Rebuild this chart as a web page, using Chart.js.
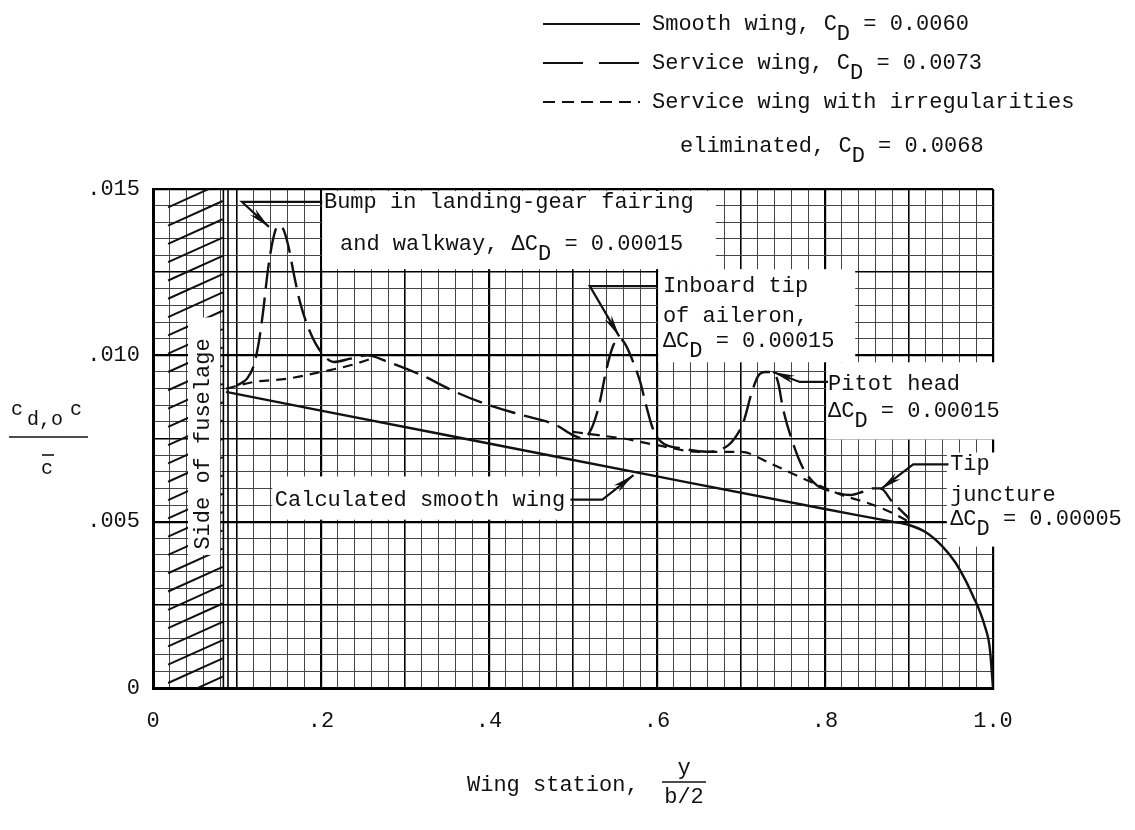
<!DOCTYPE html>
<html>
<head>
<meta charset="utf-8">
<script src="https://cdn.jsdelivr.net/npm/chart.js@4.4.1/dist/chart.umd.min.js"></script>
<style>
html,body{margin:0;padding:0;background:#fff}
#wrap{width:1135px;height:830px}
</style>
</head>
<body>
<div id="wrap"><canvas id="dragChart" width="1135" height="830"></canvas></div>
<script>

// wing station y/(b/2) and section drag cd,o c / cbar
const smoothX=[0.087,0.2,0.4,0.6,0.8,0.88,0.9,0.92,0.94,0.955,0.967,0.977,0.985,0.991,0.996,1.0]
const smoothY=[0.0089,0.00834,0.00735,0.00636,0.00538,0.00500,0.00490,0.00468,0.00425,0.00378,0.00325,0.00272,0.00226,0.00180,0.00124,0]

const serviceX=[0.1,0.112,0.12,0.126,0.131,0.137,0.143,0.149,0.155,0.161,0.168,0.175,0.187,0.2,0.215,0.235,0.255,0.28,0.32,0.36,0.40,0.44,0.48,0.50,0.512,0.522,0.531,0.54,0.548,0.556,0.563,0.57,0.58,0.587,0.595,0.605,0.63,0.66,0.685,0.695,0.703,0.713,0.721,0.729,0.737,0.744,0.75,0.76,0.774,0.79,0.81,0.83,0.845,0.857,0.866,0.88,0.9]
const serviceY=[0.0091,0.0093,0.0097,0.0104,0.0113,0.0126,0.0135,0.0139,0.0138,0.0133,0.0124,0.0116,0.0107,0.0101,0.0098,0.0099,0.0100,0.0098,0.0094,0.0089,0.0085,0.0082,0.0079,0.0076,0.0075,0.0078,0.0085,0.0096,0.0103,0.0105,0.0103,0.0099,0.0092,0.0085,0.0078,0.0074,0.0072,0.0071,0.0073,0.0076,0.0080,0.0089,0.0094,0.0095,0.0095,0.0092,0.0084,0.0075,0.0066,0.0061,0.0059,0.0058,0.0059,0.0060,0.0060,0.0056,0.0051]

// irregularities eliminated; null where it runs on the service wing curve
const cleanX=[0.087,0.12,0.16,0.2,0.235,0.26,0.38,0.50,0.53,0.56,0.6,0.65,0.7,0.735,0.765,0.792,0.82,0.85,0.877,0.9]
const cleanY=[0.0090,0.0092,0.0093,0.0095,0.0097,0.0099,null,0.0077,0.0076,0.0075,0.0073,0.0071,0.0071,0.00675,0.0064,0.0061,0.0058,0.00557,0.0053,0.0050]

const xTickLabels=['0','.2','.4','.6','.8','1.0']
const yTickLabels=['0','.005','.010','.015']

const FONT='"Liberation Mono","Courier New",monospace'

const pts=(xs,ys)=>xs.map((x,i)=>({x:x,y:ys[i]}))

// white patches behind notes, data coords [x1,y1,x2,y2]
const boxes=[
[0.2015,0.01494,0.67,0.01259],
[0.6015,0.01259,0.836,0.00979],
[0.8015,0.00979,1.03,0.00747],
[0.945,0.00708,1.03,0.00425],
[0.142,0.00636,0.497,0.00506],
[0.0417,0.01114,0.08,0.0040]
]

const notes=[
{x:0.2035,y:0.01461,t:['Bump in landing-gear fairing']},
{x:0.2226,y:0.01334,t:['and walkway, \u0394C',['D'],' = 0.00015']},
{x:0.607,y:0.01208,t:['Inboard tip']},
{x:0.607,y:0.01117,t:['of aileron,']},
{x:0.607,y:0.01042,t:['\u0394C',['D'],' = 0.00015']},
{x:0.8036,y:0.00913,t:['Pitot head']},
{x:0.8036,y:0.00831,t:['\u0394C',['D'],' = 0.00015']},
{x:0.949,y:0.00672,t:['Tip']},
{x:0.949,y:0.00581,t:['juncture']},
{x:0.949,y:0.00506,t:['\u0394C',['D'],' = 0.00005']},
{x:0.145,y:0.00566,t:['Calculated smooth wing']}
]

const arrows=[
[[0.2015,0.01461],[0.106,0.01461],[0.138,0.01386]],
[[0.6,0.01208],[0.52,0.01208],[0.555,0.01057]],
[[0.8036,0.0092],[0.77,0.0092],[0.738,0.0095]],
[[0.947,0.00672],[0.905,0.00672],[0.866,0.00597]],
[[0.497,0.00566],[0.535,0.00566],[0.572,0.0064]]
]

function richText(ctx,x,y,parts,size){
  ctx.font=size+'px '+FONT
  ctx.textBaseline='middle'
  ctx.textAlign='left'
  let cx=x
  parts.forEach(p=>{
    if(Array.isArray(p)){
      ctx.fillText(p[0],cx,y+size*0.45)
      cx+=ctx.measureText(p[0]).width
    }else{
      ctx.fillText(p,cx,y)
      cx+=ctx.measureText(p).width
    }
  })
  return cx
}

function arrowLine(ctx,p){
  ctx.beginPath()
  ctx.moveTo(p[0][0],p[0][1])
  for(let i=1;i<p.length;i++) ctx.lineTo(p[i][0],p[i][1])
  ctx.stroke()
  const [x1,y1]=p[p.length-2]
  const [x2,y2]=p[p.length-1]
  const a=Math.atan2(y2-y1,x2-x1)
  const L=22,W=4
  ctx.beginPath()
  ctx.moveTo(x2,y2)
  ctx.lineTo(x2-L*Math.cos(a)+W*Math.sin(a),y2-L*Math.sin(a)-W*Math.cos(a))
  ctx.lineTo(x2-L*0.7*Math.cos(a),y2-L*0.7*Math.sin(a))
  ctx.lineTo(x2-L*Math.cos(a)-W*Math.sin(a),y2-L*Math.sin(a)+W*Math.cos(a))
  ctx.closePath()
  ctx.fill()
}

// grid weight: heavy every 10 squares, medium every 5
function gridWidth(v,step){
  const n=Math.round(v/step)
  if(n%10===0) return 2.2
  if(n%5===0) return 1.6
  return 1
}

const paper={
  id:'paper',
  beforeDatasetsDraw(chart){
    const ctx=chart.ctx,xs=chart.scales.x,ys=chart.scales.y,a=chart.chartArea
    ctx.save()
    // hatching left of the fuselage line
    ctx.beginPath()
    ctx.rect(a.left,a.top,xs.getPixelForValue(0.084)-a.left,a.bottom-a.top)
    ctx.clip()
    ctx.strokeStyle='#111'
    ctx.lineWidth=2
    for(let y=-0.0004;y<0.0152;y+=0.00055){
      ctx.beginPath()
      ctx.moveTo(xs.getPixelForValue(0.018),ys.getPixelForValue(y))
      ctx.lineTo(xs.getPixelForValue(0.083),ys.getPixelForValue(y+0.00074))
      ctx.stroke()
    }
    ctx.restore()
    ctx.save()
    ctx.fillStyle='#fff'
    boxes.forEach(b=>{
      const x1=xs.getPixelForValue(b[0]),y1=ys.getPixelForValue(b[1])
      const x2=xs.getPixelForValue(b[2]),y2=ys.getPixelForValue(b[3])
      ctx.fillRect(x1,y1,x2-x1,y2-y1)
    })
    // side of fuselage
    ctx.strokeStyle='#000'
    ctx.lineWidth=1.6
    ;[0.0838,0.0893].forEach(v=>{
      const px=xs.getPixelForValue(v)
      ctx.beginPath()
      ctx.moveTo(px,a.top)
      ctx.lineTo(px,a.bottom)
      ctx.stroke()
    })
    ctx.restore()
  },
  afterDraw(chart){
    const ctx=chart.ctx,xs=chart.scales.x,ys=chart.scales.y
    ctx.save()
    ctx.fillStyle='#111'
    ctx.strokeStyle='#111'
    notes.forEach(n=>richText(ctx,xs.getPixelForValue(n.x),ys.getPixelForValue(n.y),n.t,22))
    ctx.lineWidth=2.2
    arrows.forEach(p=>arrowLine(ctx,p.map(q=>[xs.getPixelForValue(q[0]),ys.getPixelForValue(q[1])])))

    // rotated fuselage label
    ctx.save()
    ctx.translate(xs.getPixelForValue(0.0595),ys.getPixelForValue(0.00416))
    ctx.rotate(-Math.PI/2)
    ctx.font='22px '+FONT
    ctx.textBaseline='middle'
    ctx.fillText('Side of fuselage',0,0)
    ctx.restore()

    // legend
    const rows=[
      {y:24,dash:[],t:['Smooth wing, C',['D'],' = 0.0060']},
      {y:63,dash:[40,16],t:['Service wing, C',['D'],' = 0.0073']},
      {y:102,dash:[12,7],t:['Service wing with irregularities']}
    ]
    rows.forEach(r=>{
      ctx.setLineDash(r.dash)
      ctx.lineWidth=2.2
      ctx.beginPath()
      ctx.moveTo(543,r.y)
      ctx.lineTo(640,r.y)
      ctx.stroke()
      ctx.setLineDash([])
      richText(ctx,652,r.y,r.t,22)
    })
    richText(ctx,680,146,['eliminated, C',['D'],' = 0.0068'],22)

    // axis titles
    richText(ctx,467,785,['Wing station,'],22)
    ctx.textAlign='center'
    ctx.fillText('y',684,768)
    ctx.fillText('b/2',684,797)
    ctx.lineWidth=1.6
    ctx.beginPath();ctx.moveTo(662,782);ctx.lineTo(706,782);ctx.stroke()

    ctx.textAlign='left'
    ctx.font='20px '+FONT
    ctx.fillText('c',11,410)
    ctx.fillText('d,o',27,420)
    ctx.fillText('c',70,410)
    ctx.fillText('c',41,469)
    ctx.beginPath();ctx.moveTo(9,437);ctx.lineTo(88,437);ctx.stroke()
    ctx.beginPath();ctx.moveTo(42,455);ctx.lineTo(54,455);ctx.stroke()
    ctx.restore()
  }
}

const ctx=document.getElementById('dragChart')

new Chart(ctx,{
  type:'line',
  data:{
    datasets:[
      {label:'Smooth wing',data:pts(smoothX,smoothY),borderColor:'#111',borderWidth:2.4,pointRadius:0,cubicInterpolationMode:'monotone'},
      {label:'Service wing',data:pts(serviceX,serviceY),borderColor:'#111',borderWidth:2.4,borderDash:[26,9],pointRadius:0,cubicInterpolationMode:'monotone'},
      {label:'Irregularities eliminated',data:pts(cleanX,cleanY),borderColor:'#111',borderWidth:2.2,borderDash:[10,7],pointRadius:0,spanGaps:false,cubicInterpolationMode:'monotone'}
    ]
  },
  options:{
    responsive:false,
    animation:false,
    devicePixelRatio:1,
    layout:{padding:{left:0,right:142,top:189,bottom:0}},
    plugins:{legend:{display:false},tooltip:{enabled:false}},
    scales:{
      x:{
        type:'linear',min:0,max:1,
        afterFit:s=>{s.height=142},
        ticks:{
          stepSize:0.02,maxTicksLimit:100,autoSkip:false,maxRotation:0,
          padding:20,color:'#111',font:{family:FONT,size:22},
          callback:v=>{
            const k=v/0.2
            return Math.abs(k-Math.round(k))<1e-6 ? xTickLabels[Math.round(k)] : ''
          }
        },
        grid:{
          drawTicks:false,
          color:c=>Math.round(c.tick.value/0.02)%5===0?'#000':'#444',
          lineWidth:c=>gridWidth(c.tick.value,0.02)
        },
        border:{color:'#000',width:3}
      },
      y:{
        min:0,max:0.015,
        afterFit:s=>{s.width=153},
        ticks:{
          stepSize:0.0005,maxTicksLimit:100,autoSkip:false,
          padding:13,color:'#111',font:{family:FONT,size:22},
          callback:v=>{
            const k=v/0.005
            return Math.abs(k-Math.round(k))<1e-6 ? yTickLabels[Math.round(k)] : ''
          }
        },
        grid:{
          drawTicks:false,
          color:c=>Math.round(c.tick.value/0.0005)%5===0?'#000':'#444',
          lineWidth:c=>gridWidth(c.tick.value,0.0005)
        },
        border:{color:'#000',width:3}
      }
    }
  },
  plugins:[paper]
})
</script>
</body>
</html>
